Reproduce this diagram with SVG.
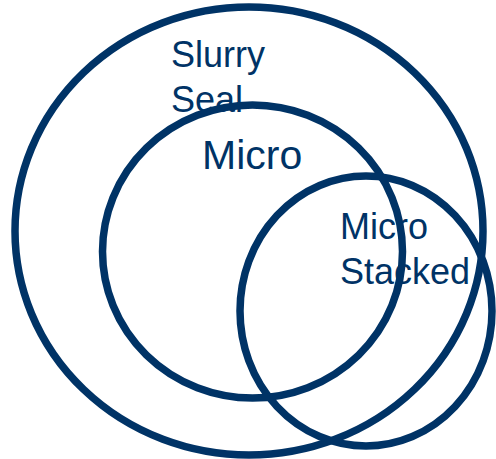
<svg xmlns="http://www.w3.org/2000/svg" width="496" height="459" viewBox="0 0 496 459">
  <style>
    .ring { fill: none; stroke: #003366; stroke-width: 7.5; }
    .label { fill: #003366; font-family: "Liberation Sans", Arial, sans-serif; font-size: 36px; }
    .label-lg { font-size: 41px; }
  </style>
  <rect width="496" height="459" fill="#ffffff"/>

  <!-- Slurry Seal: outer set -->
  <g id="slurry-seal">
    <text class="label" x="171" y="67">Slurry</text>
    <text class="label" x="171" y="112">Seal</text>
    <ellipse class="ring" cx="249" cy="231" rx="234" ry="224"/>
  </g>

  <!-- Micro: nested set -->
  <g id="micro">
    <text class="label label-lg" x="202" y="169">Micro</text>
    <ellipse class="ring" cx="252.5" cy="251.5" rx="150" ry="146.5"/>
  </g>

  <!-- Micro Stacked: overlapping set -->
  <g id="micro-stacked">
    <text class="label" x="340" y="239">Micro</text>
    <text class="label" x="340" y="284">Stacked</text>
    <ellipse class="ring" cx="366" cy="311" rx="126" ry="135"/>
  </g>
</svg>
